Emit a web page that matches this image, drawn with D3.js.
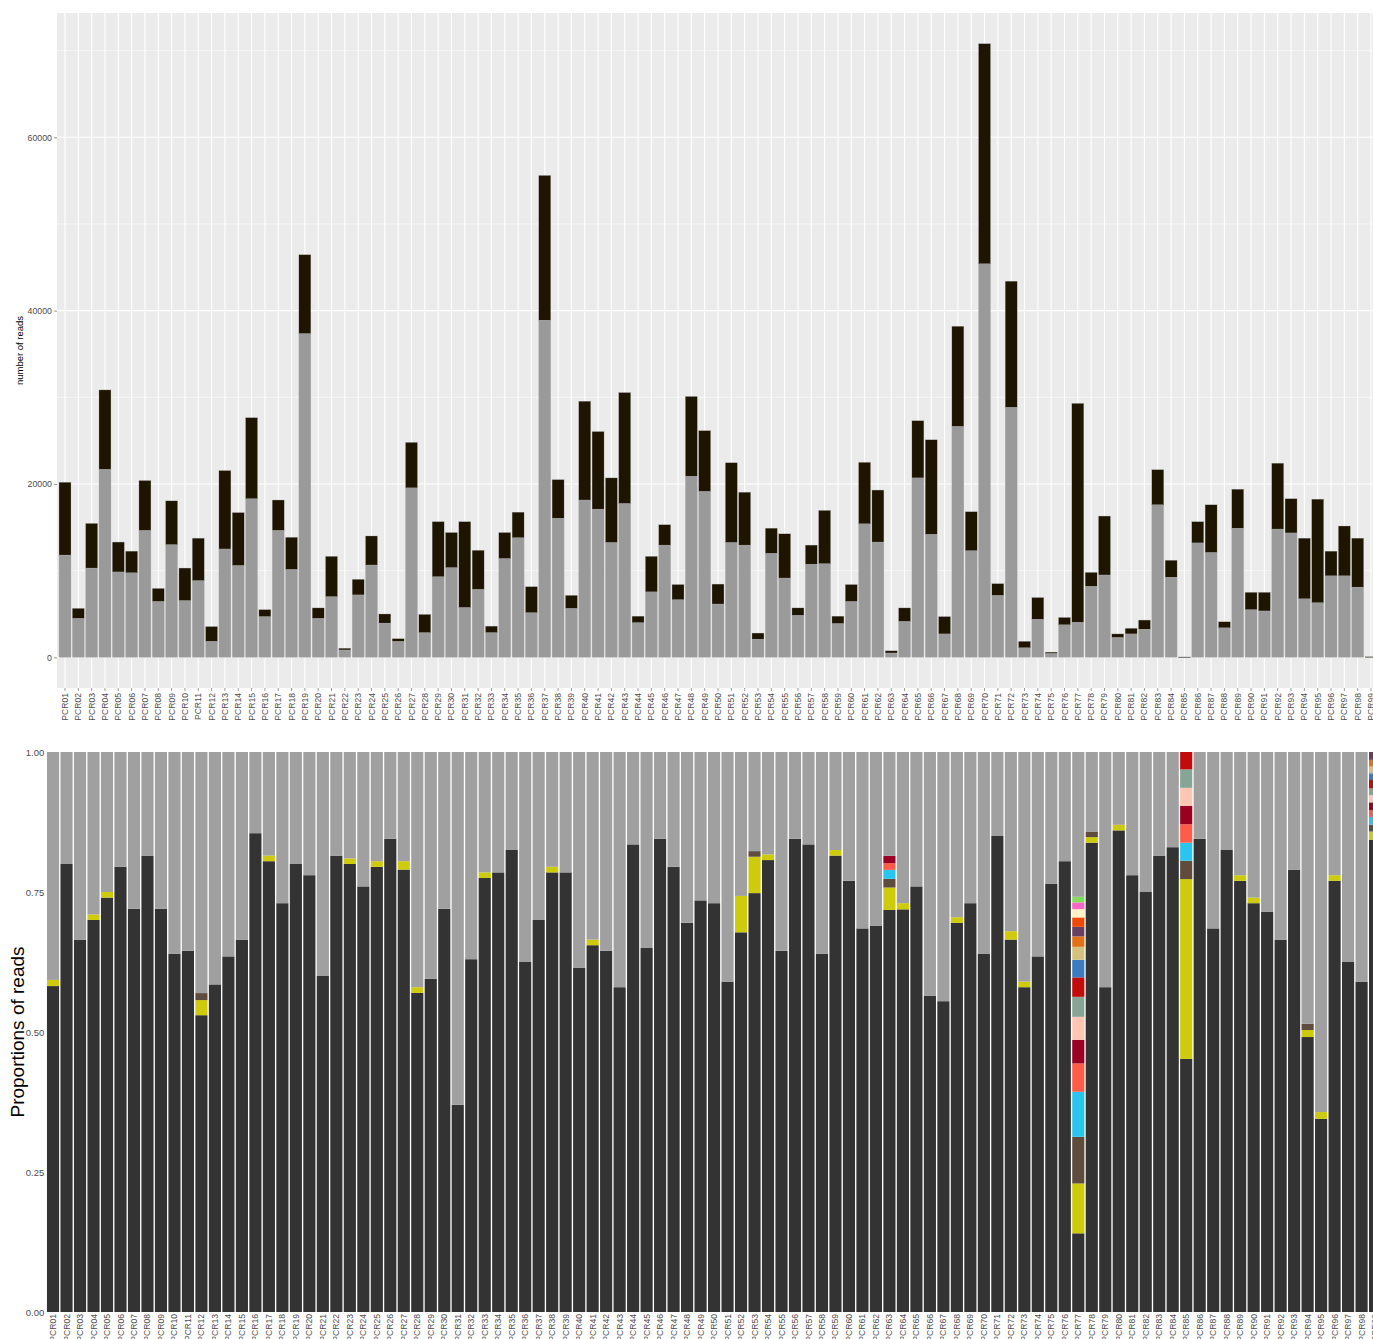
<!DOCTYPE html>
<html>
<head>
<meta charset="utf-8">
<script src="https://cdn.jsdelivr.net/npm/d3@7"></script>
<style>
  body { margin: 0; background: #fff; }
  svg { display: block; font-family: "Liberation Sans", Arial, sans-serif; }
</style>
</head>
<body>
<div id="chart"></div>
<script>
// samples PCR01..PCR99
const samples = d3.range(1, 100).map(i => "PCR" + String(i).padStart(2, "0"));

// top panel: read counts (grey = bottom part, dark = top part)
const greyReads = [
	11800, 4500, 10300, 21700, 9850, 9750, 14650, 6450, 13000, 6550,
	8850, 1850, 12500, 10600, 18300, 4700, 14650, 10150, 37350, 4500,
	7000, 850, 7200, 10650, 3950, 1850, 19550, 2850, 9300, 10350,
	5750, 7850, 2850, 11400, 13800, 5150, 38900, 16050, 5650, 18150,
	17100, 13250, 17750, 4000, 7550, 12950, 6650, 20900, 19150, 6150,
	13250, 12950, 2100, 12000, 9150, 4850, 10750, 10800, 3900, 6450,
	15400, 13300, 500, 4150, 20700, 14200, 2700, 26650, 12300, 45400,
	7150, 28850, 1100, 4400, 450, 3750, 4050, 8200, 9500, 2300,
	2700, 3250, 17600, 9250, 20, 13200, 12100, 3400, 14900, 5500,
	5350, 14800, 14350, 6750, 6300, 9400, 9400, 8100, 50
];
const darkReads = [
	8400, 1150, 5150, 9150, 3450, 2500, 5750, 1500, 5050, 3750,
	4900, 1700, 9050, 6100, 9350, 800, 3500, 3700, 9100, 1200,
	4650, 200, 1800, 3350, 1050, 300, 5250, 2100, 6350, 4050,
	9900, 4500, 750, 3000, 2950, 3000, 16700, 4450, 1500, 11400,
	8950, 7450, 12800, 750, 4100, 2350, 1750, 9200, 7000, 2300,
	9200, 6100, 700, 2900, 5100, 850, 2200, 6150, 850, 1950,
	7100, 6000, 250, 1550, 6600, 10900, 2000, 11550, 4500, 25400,
	1350, 14550, 750, 2500, 150, 850, 25250, 1600, 6800, 400,
	650, 1050, 4050, 1950, 25, 2450, 5500, 700, 4500, 2000,
	2150, 7600, 3950, 7000, 11950, 2850, 5750, 5650, 10
];
const topTicks = [0, 20000, 40000, 60000];

// bottom panel: proportions; main taxon for every sample
const propMain = [
	0.582, 0.80, 0.665, 0.70, 0.74, 0.795, 0.72, 0.815, 0.72, 0.64,
	0.645, 0.53, 0.585, 0.635, 0.665, 0.855, 0.805, 0.73, 0.80, 0.78,
	0.60, 0.815, 0.80, 0.76, 0.795, 0.845, 0.79, 0.57, 0.595, 0.72,
	0.37, 0.63, 0.775, 0.785, 0.825, 0.625, 0.70, 0.785, 0.785, 0.615,
	0.655, 0.645, 0.58, 0.835, 0.65, 0.845, 0.795, 0.695, 0.735, 0.73,
	0.59, 0.678, 0.748, 0.807, 0.645, 0.845, 0.835, 0.64, 0.815, 0.77,
	0.685, 0.69, 0.718, 0.719, 0.76, 0.565, 0.555, 0.695, 0.73, 0.64,
	0.85, 0.665, 0.58, 0.635, 0.765, 0.805, 0.1405, 0.838, 0.58, 0.86,
	0.78, 0.75, 0.815, 0.83, 0.452, 0.845, 0.685, 0.825, 0.77, 0.73,
	0.715, 0.665, 0.79, 0.491, 0.345, 0.77, 0.625, 0.59, 0.843
];
// minor taxa, sparse (sample -> proportion), listed bottom to top of the stack
const propYellow = { PCR01: 0.011, PCR04: 0.01, PCR05: 0.01, PCR12: 0.027, PCR17: 0.01, PCR23: 0.01,
	PCR25: 0.01, PCR27: 0.015, PCR28: 0.01, PCR33: 0.01, PCR38: 0.01, PCR41: 0.01, PCR52: 0.065,
	PCR53: 0.065, PCR54: 0.01, PCR59: 0.01, PCR63: 0.04, PCR64: 0.011, PCR68: 0.01, PCR72: 0.015,
	PCR73: 0.01, PCR77: 0.089, PCR78: 0.01, PCR80: 0.01, PCR85: 0.321, PCR89: 0.01, PCR90: 0.01,
	PCR94: 0.0125, PCR95: 0.012, PCR96: 0.01, PCR99: 0.015 };
const propBrown = { PCR12: 0.0125, PCR53: 0.01, PCR63: 0.0155, PCR77: 0.0833, PCR78: 0.01, PCR85: 0.033, PCR94: 0.011, PCR99: 0.012 };
const propCyan = { PCR63: 0.016, PCR77: 0.0804, PCR85: 0.032, PCR99: 0.014 };
const propSalmon = { PCR63: 0.012, PCR77: 0.0507, PCR85: 0.033, PCR99: 0.012 };
const propDarkRed = { PCR63: 0.013, PCR77: 0.0422, PCR85: 0.033, PCR99: 0.014 };
const propPeach = { PCR77: 0.041, PCR85: 0.032, PCR99: 0.013 };
const propTeal = { PCR77: 0.0357, PCR85: 0.033, PCR99: 0.012 };
const propRed = { PCR77: 0.0347, PCR85: 0.032, PCR99: 0.015 };
const propBlue = { PCR77: 0.0314, PCR99: 0.012 };
const propTan = { PCR77: 0.0232, PCR99: 0.012 };
const propOrange = { PCR77: 0.0186, PCR99: 0.012 };
const propPurple = { PCR77: 0.0171, PCR99: 0.014 };
const propOrangeRed = { PCR77: 0.0168 };
const propCream = { PCR77: 0.0148 };
const propPink = { PCR77: 0.012 };
const propGreen = { PCR77: 0.010 };
const bottomTicks = [0, 0.25, 0.5, 0.75, 1];

const minorTaxa = [
	{ key: "yellow", values: propYellow, color: "#cdcb0b" },
	{ key: "brown", values: propBrown, color: "#5f4c3d" },
	{ key: "cyan", values: propCyan, color: "#2ac5ee" },
	{ key: "salmon", values: propSalmon, color: "#fd5c48" },
	{ key: "darkred", values: propDarkRed, color: "#9a0022" },
	{ key: "peach", values: propPeach, color: "#ffc6b3" },
	{ key: "teal", values: propTeal, color: "#87a596" },
	{ key: "red", values: propRed, color: "#c20c0c" },
	{ key: "blue", values: propBlue, color: "#3b7bc0" },
	{ key: "tan", values: propTan, color: "#d5c17e" },
	{ key: "orange", values: propOrange, color: "#e37118" },
	{ key: "purple", values: propPurple, color: "#6a4060" },
	{ key: "orangered", values: propOrangeRed, color: "#ef4a02" },
	{ key: "cream", values: propCream, color: "#fff1c4" },
	{ key: "pink", values: propPink, color: "#fb66c6" },
	{ key: "green", values: propGreen, color: "#80df5a" }
];

const W = 1373, H = 1339;
const svg = d3.select("#chart").append("svg").attr("width", W).attr("height", H);
const labelFont = "8.6px";
const tickGrey = "#4d4d4d";

// ---------- top panel ----------
const topBox = { left: 57, right: 1379, top: 13, bottom: 688 };
const stepTop = (topBox.right - topBox.left) / (samples.length + 0.2);

const xTop = d3.scaleBand()
	.domain(samples)
	.range([topBox.left + 0.1 * stepTop, topBox.right - 0.1 * stepTop])
	.paddingInner(0.1)
	.paddingOuter(0.05);

const topRows = samples.map((s, i) => ({ sample: s, grey: greyReads[i], dark: darkReads[i] }));
const maxTotal = d3.max(topRows, d => d.grey + d.dark);
const yTop = d3.scaleLinear()
	.domain([-0.05 * maxTotal, 1.05 * maxTotal])
	.range([topBox.bottom, topBox.top]);

svg.append("rect")
	.attr("x", topBox.left).attr("y", topBox.top)
	.attr("width", topBox.right - topBox.left).attr("height", topBox.bottom - topBox.top)
	.attr("fill", "#ebebeb");

// grid
const minorBreaks = [10000, 30000, 50000, 70000];
svg.append("g").selectAll("line").data(minorBreaks).enter().append("line")
	.attr("x1", topBox.left).attr("x2", topBox.right)
	.attr("y1", d => yTop(d)).attr("y2", d => yTop(d))
	.attr("stroke", "#fff").attr("stroke-width", 0.55);
svg.append("g").selectAll("line").data(topTicks).enter().append("line")
	.attr("x1", topBox.left).attr("x2", topBox.right)
	.attr("y1", d => yTop(d)).attr("y2", d => yTop(d))
	.attr("stroke", "#fff").attr("stroke-width", 1.1);
svg.append("g").selectAll("line").data(samples).enter().append("line")
	.attr("x1", d => xTop(d) + xTop.bandwidth() / 2).attr("x2", d => xTop(d) + xTop.bandwidth() / 2)
	.attr("y1", topBox.top).attr("y2", topBox.bottom)
	.attr("stroke", "#fff").attr("stroke-width", 1.1);

const topStack = d3.stack().keys(["grey", "dark"])(topRows);
const topColors = { grey: "#9a9a9a", dark: "#1d1500" };

svg.append("g")
	.selectAll("g")
	.data(topStack)
	.enter()
	.append("g")
	.attr("fill", d => topColors[d.key])
	.selectAll("rect")
	.data(d => d)
	.enter()
	.append("rect")
	.attr("x", d => xTop(d.data.sample))
	.attr("y", d => yTop(d[1]))
	.attr("width", xTop.bandwidth())
	.attr("height", d => Math.max(0.6, yTop(d[0]) - yTop(d[1])))
	.attr("stroke", "#b5b5b5")
	.attr("stroke-width", 0.3);

// axes
const yAxisTop = svg.append("g")
	.attr("transform", `translate(${topBox.left},0)`)
	.call(d3.axisLeft(yTop).tickValues(topTicks).tickSize(3).tickPadding(2).tickFormat(d3.format("d")));
yAxisTop.select(".domain").remove();
yAxisTop.selectAll("line").attr("stroke", "#333").attr("stroke-width", 0.5);
yAxisTop.selectAll("text").style("font-size", "8.8px").style("fill", tickGrey);

const xAxisTop = svg.append("g")
	.attr("transform", `translate(0,${topBox.bottom})`)
	.call(d3.axisBottom(xTop).tickSize(3));
xAxisTop.select(".domain").remove();
xAxisTop.selectAll("line").attr("stroke", "#333").attr("stroke-width", 0.5);
xAxisTop.selectAll("text")
	.attr("transform", "rotate(-90)")
	.attr("x", -5)
	.attr("y", 0)
	.attr("dy", "0.35em")
	.style("text-anchor", "end")
	.style("font-size", labelFont)
	.style("fill", tickGrey);

svg.append("text")
	.attr("transform", `translate(23,${(topBox.top + topBox.bottom) / 2}) rotate(-90)`)
	.attr("text-anchor", "middle")
	.style("font-size", "9.5px")
	.style("fill", "#000")
	.text("number of reads");

// ---------- bottom panel ----------
const botBox = { left: 46.3, top: 752, bottom: 1312 };
const stepBot = 13.49;
const xBot = d3.scaleBand()
	.domain(samples)
	.range([botBox.left, botBox.left + stepBot * samples.length])
	.paddingInner(0.1)
	.paddingOuter(0.05);
const yBot = d3.scaleLinear().domain([0, 1]).range([botBox.bottom, botBox.top]);

const botRows = samples.map((s, i) => {
	const row = { sample: s, main: propMain[i] };
	let sum = propMain[i];
	minorTaxa.forEach(t => {
		row[t.key] = t.values[s] || 0;
		sum += row[t.key];
	});
	row.rest = Math.max(0, 1 - sum);
	return row;
});

const botKeys = ["main"].concat(minorTaxa.map(t => t.key), ["rest"]);
const botColors = { main: "#333333", rest: "#a0a0a0" };
minorTaxa.forEach(t => { botColors[t.key] = t.color; });

const botStack = d3.stack().keys(botKeys)(botRows);

svg.append("g")
	.selectAll("g")
	.data(botStack)
	.enter()
	.append("g")
	.attr("fill", d => botColors[d.key])
	.selectAll("rect")
	.data(d => d.filter(p => p[1] > p[0]))
	.enter()
	.append("rect")
	.attr("x", d => xBot(d.data.sample))
	.attr("y", d => yBot(Math.min(1, d[1])))
	.attr("width", xBot.bandwidth())
	.attr("height", d => yBot(d[0]) - yBot(Math.min(1, d[1])));

const yAxisBot = svg.append("g")
	.attr("transform", `translate(${botBox.left},0)`)
	.call(d3.axisLeft(yBot).tickValues(bottomTicks).tickSize(0).tickPadding(2).tickFormat(d3.format(".2f")));
yAxisBot.select(".domain").remove();
yAxisBot.selectAll("text").style("font-size", "9.5px").style("fill", tickGrey);

const xAxisBot = svg.append("g")
	.attr("transform", `translate(0,${botBox.bottom})`)
	.call(d3.axisBottom(xBot).tickSize(0));
xAxisBot.select(".domain").remove();
xAxisBot.selectAll("text")
	.attr("transform", "rotate(-90)")
	.attr("x", -2)
	.attr("y", 0)
	.attr("dy", "0.35em")
	.style("text-anchor", "end")
	.style("font-size", labelFont)
	.style("fill", tickGrey);

svg.append("text")
	.attr("transform", `translate(24,${(botBox.top + botBox.bottom) / 2}) rotate(-90)`)
	.attr("text-anchor", "middle")
	.style("font-size", "19px")
	.style("fill", "#000")
	.text("Proportions of reads");
</script>
</body>
</html>
